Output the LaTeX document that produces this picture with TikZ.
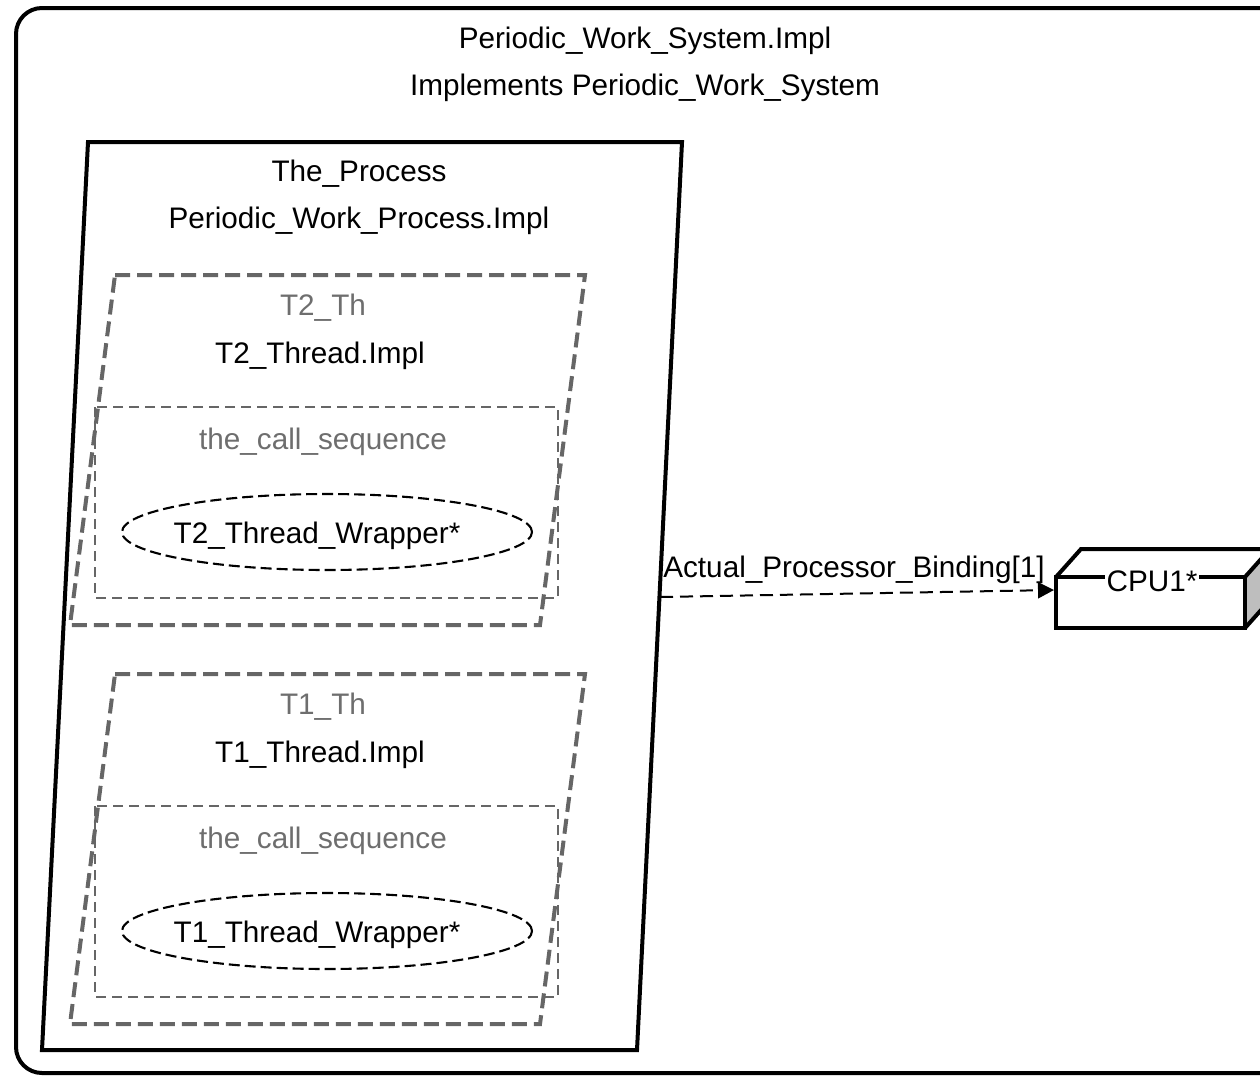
\documentclass[tikz,border=0pt]{standalone}
\usepackage{fontspec}
\setmainfont{Liberation Sans}
\usetikzlibrary{arrows.meta,shapes.geometric}
\definecolor{dgrey}{RGB}{102,102,102}
\definecolor{tgrey}{RGB}{110,110,110}
\definecolor{sidegrey}{RGB}{190,190,190}
\tikzset{
  lbl/.style={font=\fontsize{29.7}{32}\selectfont, anchor=base, inner sep=0pt},
  glbl/.style={lbl, text=tgrey},
  framebox/.style={draw=black, line width=4pt, rounded corners=26pt},
  procbox/.style={draw=black, line width=4pt, line join=miter},
  threadbox/.style={draw=dgrey, line width=4pt, dash pattern=on 15pt off 7pt},
  seqbox/.style={draw=dgrey, line width=2.8pt, dash pattern=on 10pt off 6pt},
  subell/.style={draw=black, line width=2.1pt, dash pattern=on 11pt off 5pt, ellipse, minimum width=410pt, minimum height=76pt, inner sep=0pt},
  cpuface/.style={draw=black, line width=4pt, minimum width=189pt, minimum height=51pt, inner sep=0pt},
  bind/.style={draw=black, line width=2pt, dash pattern=on 13pt off 7pt, -{Triangle[length=16pt,width=16pt]}}
}
\begin{document}
\begin{tikzpicture}[x=1pt,y=-1pt]
\useasboundingbox (0,0) rectangle (1260,1076);
\begin{scope}
\clip (0,0) rectangle (1260,1076);
% outer system frame
\draw[framebox] (16,8) rectangle (1300,1073);
\node[lbl] (sysname) at (645,48) {Periodic\_Work\_System.Impl};
\node[lbl] (sysimpl) at (645,95) {Implements Periodic\_Work\_System};

% process
\draw[procbox] (88,142) -- (682,142) -- (637,1050) -- (42,1050) -- cycle;
\node[lbl] (procname) at (359,181) {The\_Process};
\node[lbl] (proctype) at (359,228) {Periodic\_Work\_Process.Impl};

% thread T2
\draw[threadbox] (115,275) -- (585,275) -- (540,625) -- (70,625) -- cycle;
\node[glbl] (t2name) at (323,315) {T2\_Th};
\node[lbl] (t2type) at (320,363) {T2\_Thread.Impl};
\draw[seqbox] (95,407) rectangle (558,598);
\node[glbl] (t2seq) at (323,449) {the\_call\_sequence};
\node[subell] (t2wrap) at (327,532) {};
\node[lbl] (t2wraplbl) at (317,543) {T2\_Thread\_Wrapper*};

% thread T1
\draw[threadbox] (115,674) -- (585,674) -- (540,1024) -- (70,1024) -- cycle;
\node[glbl] (t1name) at (323,714) {T1\_Th};
\node[lbl] (t1type) at (320,762) {T1\_Thread.Impl};
\draw[seqbox] (95,806) rectangle (558,997);
\node[glbl] (t1seq) at (323,848) {the\_call\_sequence};
\node[subell] (t1wrap) at (327,931) {};
\node[lbl] (t1wraplbl) at (317,942) {T1\_Thread\_Wrapper*};

% CPU
\fill[sidegrey] (1245,577) -- (1270,549) -- (1270,600) -- (1245,628) -- cycle;
\draw[line width=4pt, line join=miter] (1056,577) -- (1081,549) -- (1270,549);
\draw[line width=4pt, line join=miter] (1245,577) -- (1270,549) -- (1270,600) -- (1245,628);
\node[cpuface] (cpu) at (1150.5,602.5) {};
\node[lbl, fill=white, inner xsep=2pt, inner ysep=1pt] (cpulbl) at (1152,591) {CPU1*};

% binding
\coordinate (bindstart) at (660,597);
\draw[bind] (bindstart) -- ([yshift=12.5pt]cpu.west);
\node[lbl] (bindlbl) at (854,577) {Actual\_Processor\_Binding[1]};
\end{scope}
\end{tikzpicture}
\end{document}
